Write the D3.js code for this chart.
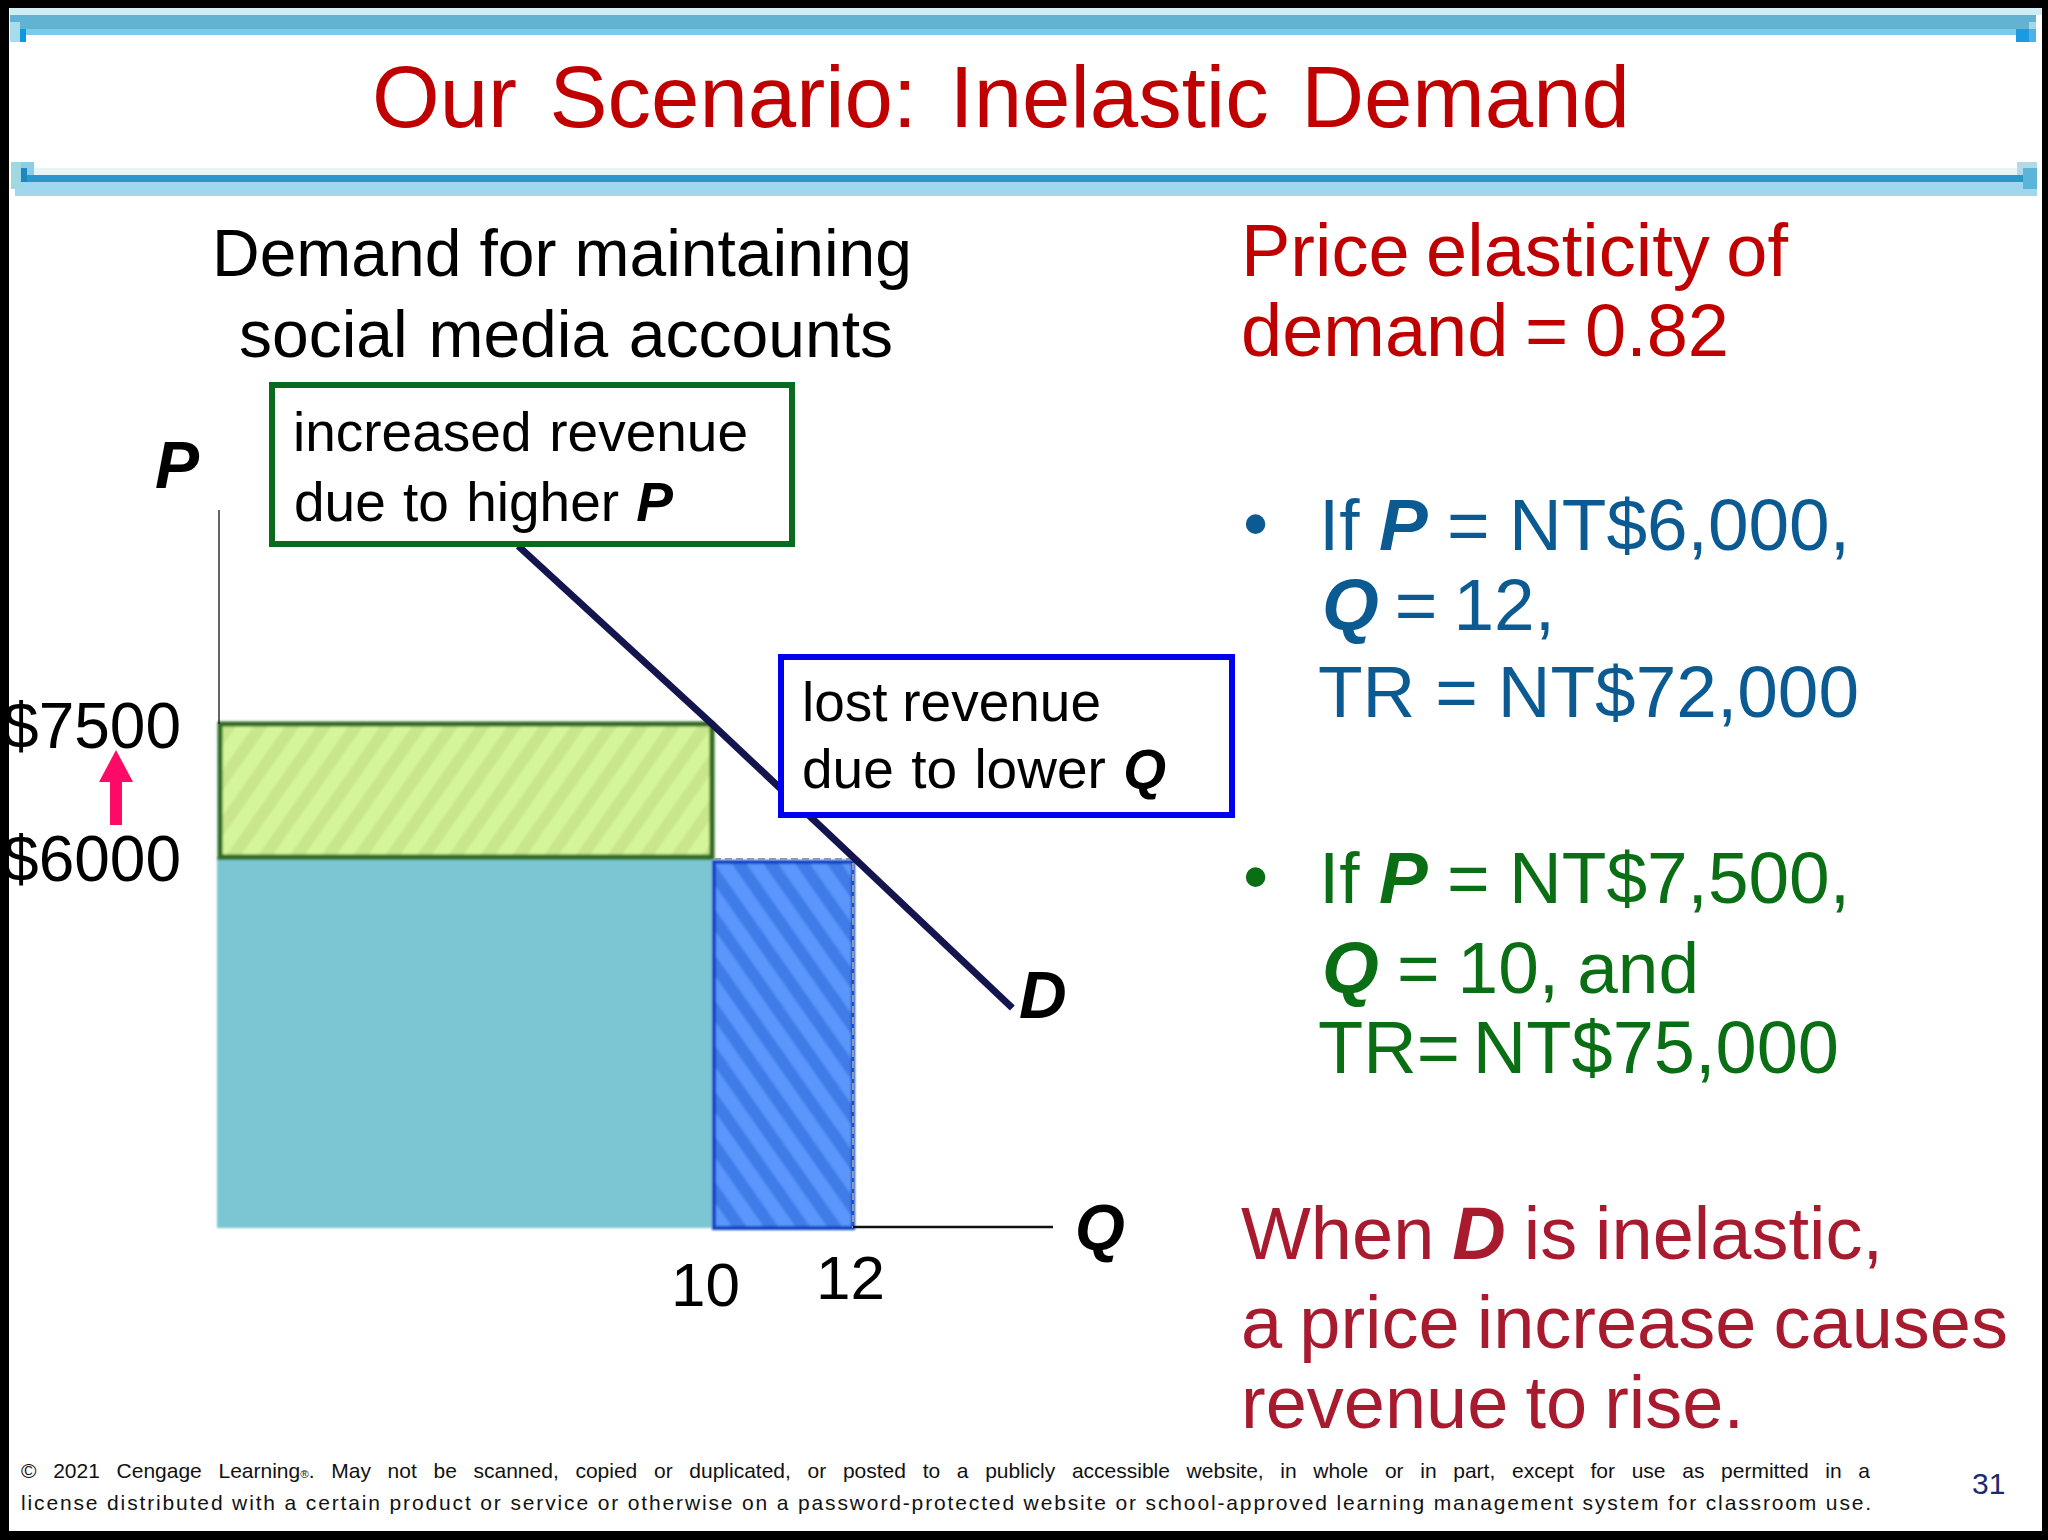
<!DOCTYPE html>
<html>
<head>
<meta charset="utf-8">
<script src="https://cdn.jsdelivr.net/npm/d3@7"></script>
<style>
  html, body { margin: 0; padding: 0; background: #fff; }
  svg { display: block; font-family: "Liberation Sans", Arial, sans-serif; }
</style>
</head>
<body>
<div id="chart"></div>
<script>
// values
var prices = [7500, 6000];
var quantities = [10, 12];
var demandQ = [6.07, 10, 12, 14.26];
var demandP = [9507, 7500, 6000, 3558];

var svg = d3.select("#chart").append("svg")
    .attr("width", 2048)
    .attr("height", 1540);

// the axes of the slide are schematic, so the scales have a knot at each value
var x = d3.scaleLinear().domain([0, 10, 12]).range([219, 712, 853]);
var y = d3.scaleLinear().domain([0, 6000, 7500]).range([1228, 857, 724]);

var defs = svg.append("defs");

function hatch(id, angle, base, stripe) {
    var p = defs.append("pattern")
        .attr("id", id)
        .attr("patternUnits", "userSpaceOnUse")
        .attr("width", 26)
        .attr("height", 26)
        .attr("patternTransform", "rotate(" + angle + ")");
    p.append("rect").attr("width", 26).attr("height", 26).attr("fill", base);
    p.append("rect").attr("width", 12).attr("height", 26).attr("fill", stripe);
}
hatch("hatchGreen", 35, "#d5f59b", "#c9e68d");
hatch("hatchBlue", -35, "#5a96fb", "#3f7ce8");

// the reference is a soft, upscaled image
defs.append("filter")
    .attr("id", "soft")
    .attr("x", "-5%").attr("y", "-5%")
    .attr("width", "110%").attr("height", "110%")
    .append("feGaussianBlur")
    .attr("stdDeviation", 1.2);

// header bands
function band(x0, y0, x1, y1, color) {
    svg.append("rect")
        .attr("x", x0).attr("y", y0)
        .attr("width", x1 - x0).attr("height", y1 - y0)
        .attr("fill", color);
}
band(10, 8, 2042, 15, "#cfeef4");
band(10, 15, 2036, 29, "#62b3d3");
band(10, 29, 2036, 35, "#7cc9ea");
band(10, 22, 20, 42, "#a8dcec");
band(20, 29, 26, 42, "#0a9ae0");
band(2016, 29, 2036, 42, "#4cb2ea");
band(2016, 29, 2029, 42, "#1a9ae0");
band(2029, 22, 2036, 29, "#a9d6e4");
band(15, 168, 2037, 175, "#e9f3f3");
band(15, 182, 2037, 196, "#a0d6ee");
band(21, 175, 2023, 182, "#2a97c9");
band(11, 162, 21, 189, "#a0d8e2");
band(21, 162, 34, 175, "#8ecbe8");
band(21, 168, 27, 182, "#1f86c0");
band(2017, 162, 2037, 175, "#b5d8e6");
band(2023, 168, 2037, 189, "#5ab6d8");

// revenue rectangles
svg.append("rect")
    .attr("x", x(0) - 2)
    .attr("y", y(prices[1]))
    .attr("width", x(10) - x(0) + 2)
    .attr("height", y(0) - y(prices[1]))
    .attr("fill", "#7bc6d3")
    .attr("filter", "url(#soft)");

svg.append("rect")
    .attr("x", x(0) + 1)
    .attr("y", y(prices[0]))
    .attr("width", x(10) - x(0) - 1)
    .attr("height", y(prices[1]) - y(prices[0]))
    .attr("fill", "url(#hatchGreen)")
    .attr("stroke", "#2f6a22")
    .attr("stroke-width", 5)
    .attr("filter", "url(#soft)");

svg.append("rect")
    .attr("x", x(10) + 2)
    .attr("y", y(prices[1]) + 5)
    .attr("width", x(12) - x(10) - 2)
    .attr("height", y(0) - y(prices[1]) - 5)
    .attr("fill", "url(#hatchBlue)")
    .attr("stroke", "#0f45c4")
    .attr("stroke-width", 4)
    .attr("filter", "url(#soft)");

svg.append("path")
    .attr("d", "M" + (x(10) + 2) + "," + (y(prices[1]) + 2) + "H" + x(12) + "V" + y(0))
    .attr("fill", "none")
    .attr("stroke", "#8b9bb0")
    .attr("stroke-width", 2)
    .attr("stroke-dasharray", "7,4");

// axes
svg.append("line")
    .attr("x1", x(0)).attr("y1", 510)
    .attr("x2", x(0)).attr("y2", y(prices[0]))
    .attr("stroke", "#111").attr("stroke-width", 1.3);

svg.append("line")
    .attr("x1", x(12)).attr("y1", y(0) - 1)
    .attr("x2", 1053).attr("y2", y(0) - 1)
    .attr("stroke", "#111").attr("stroke-width", 2.5);

var yAxis = d3.axisLeft(y)
    .tickValues(prices)
    .tickSize(0)
    .tickPadding(38)
    .tickFormat(function(d) { return "$" + d; });

svg.append("g")
    .attr("transform", "translate(" + x(0) + ",0)")
    .call(yAxis)
    .call(function(g) { g.select(".domain").remove(); })
    .selectAll("text")
    .attr("font-family", "Liberation Sans")
    .attr("font-size", 64)
    .attr("fill", "#000")
    .attr("dy", 23);

var xAxis = d3.axisBottom(x)
    .tickValues(quantities)
    .tickSize(0)
    .tickPadding(0)
    .tickFormat(d3.format("d"));

svg.append("g")
    .attr("transform", "translate(0," + y(0) + ")")
    .call(xAxis)
    .call(function(g) { g.select(".domain").remove(); })
    .selectAll("text")
    .attr("font-family", "Liberation Sans")
    .attr("font-size", 62)
    .attr("fill", "#000")
    .attr("dy", function(d) { return d === 10 ? 78 : 71; })
    .attr("dx", function(d) { return d === 10 ? -7 : -3; });

// demand curve
var demandLine = d3.line()
    .x(function(d, i) { return x(demandQ[i]); })
    .y(function(d, i) { return y(demandP[i]); });

svg.append("path")
    .datum(demandQ)
    .attr("d", demandLine)
    .attr("fill", "none")
    .attr("stroke", "#14144f")
    .attr("stroke-width", 7);

// price rise arrow
svg.append("path")
    .attr("d", "M116,750L133,782H122V825H110V782H99Z")
    .attr("fill", "#ff0a66");

// annotation boxes sit on top of the curve
svg.append("rect")
    .attr("x", 272).attr("y", 385)
    .attr("width", 520).attr("height", 159)
    .attr("fill", "#fff")
    .attr("stroke", "#0a6b1e")
    .attr("stroke-width", 6);

svg.append("rect")
    .attr("x", 781).attr("y", 657)
    .attr("width", 451).attr("height", 158)
    .attr("fill", "#fff")
    .attr("stroke", "#0000ee")
    .attr("stroke-width", 6);

// text, *word* is bold italic, and the width stretches the word gaps to fit
function label(str, x0, y0, size, color, width, byLetter) {
    var t = svg.append("text")
        .attr("x", x0)
        .attr("y", y0)
        .attr("font-size", size)
        .attr("fill", color);
    str.split(/(\*[^*]*\*|®)/).forEach(function(part) {
        var s = t.append("tspan").text(part.replace(/\*/g, ""));
        if (part.charAt(0) == "*") s.attr("font-weight", "bold").attr("font-style", "italic");
        if (part == "®") s.attr("font-size", size * 0.55);
    });
    if (width) {
        var w = t.node().getComputedTextLength();
        if (byLetter) {
            t.style("letter-spacing", ((width - w) / str.length) + "px");
        } else {
            var gaps = str.split(" ").length - 1;
            if (gaps > 0) t.style("word-spacing", ((width - w) / gaps) + "px");
        }
    }
    return t;
}

var red = "#c00000";
var blue = "#0c5a92";
var green = "#0a6e14";
var wine = "#a81a2e";

label("Our Scenario: Inelastic Demand", 372, 127, 87, red, 1258);

label("Demand for maintaining", 212, 276, 66, "#000", 700);
label("social media accounts", 239, 357, 66, "#000", 654);

label("*P*", 155, 488, 66, "#000");
label("*D*", 1019, 1018, 66, "#000");
label("*Q*", 1075, 1250, 64, "#000");

label("increased revenue", 293, 451, 55, "#000", 455);
label("due to higher *P*", 294, 521, 55, "#000", 379);
label("lost revenue", 802, 721, 55, "#000", 299);
label("due to lower *Q*", 802, 788, 55, "#000", 364);

label("Price elasticity of", 1241, 276, 74, red, 547);
label("demand = 0.82", 1241, 356, 74, red, 488);

label("•", 1243, 548, 72, blue);
label("If *P* = NT$6,000,", 1319, 550, 73, blue, 531);
label("*Q* = 12,", 1322, 630, 73, blue, 233);
label("TR = NT$72,000", 1318, 717, 73, blue, 541);

label("•", 1243, 901, 72, green);
label("If *P* = NT$7,500,", 1319, 903, 73, green, 531);
label("*Q* = 10, and", 1322, 993, 73, green, 377);
label("TR= NT$75,000", 1318, 1073, 74, green, 521);

label("When *D* is inelastic,", 1241, 1259, 74, wine, 642);
label("a price increase causes", 1241, 1348, 74, wine, 767);
label("revenue to rise.", 1241, 1428, 74, wine, 503);

label("© 2021 Cengage Learning®. May not be scanned, copied or duplicated, or posted to a publicly accessible website, in whole or in part, except for use as permitted in a",
    21, 1478, 21, "#111", 1849);
label("license distributed with a certain product or service or otherwise on a password-protected website or school-approved learning management system for classroom use.",
    21, 1510, 21, "#111", 1852, true);
label("31", 1972, 1494, 30, "#1a2a6e");

// black frame goes last, it cuts into the $ of the price labels
band(0, 0, 2048, 8, "#000");
band(0, 1531, 2048, 1540, "#000");
band(0, 0, 9, 1540, "#000");
band(2042, 0, 2048, 1540, "#000");
</script>
</body>
</html>
